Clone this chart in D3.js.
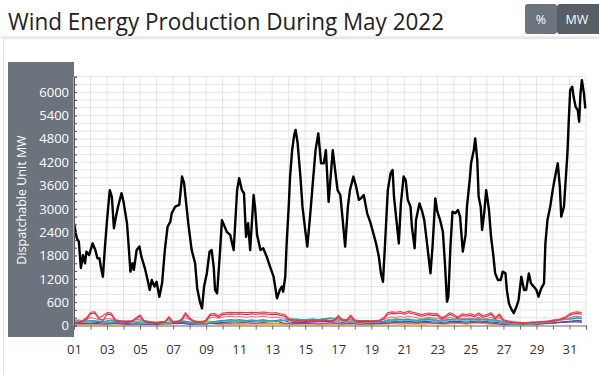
<!DOCTYPE html>
<html><head><meta charset="utf-8">
<script src="https://cdn.jsdelivr.net/npm/d3@7"></script>
<style>
html,body{margin:0;padding:0;background:#fff;}
svg{display:block;font-family:"Open Sans","Noto Sans",sans-serif;}
</style></head>
<body>
<svg id="chart" width="599" height="375"></svg>
<script>
// ---------- DATA ----------
const titleText = "Wind Energy Production During May 2022";
const yTitle = "Dispatchable Unit MW";
const yTickValues = [0, 600, 1200, 1800, 2400, 3000, 3600, 4200, 4800, 5400, 6000];
const xTickLabels = ["01","03","05","07","09","11","13","15","17","19","21","23","25","27","29","31"];

// total production: hour offset from 1 May 00:00, MW
const totalHours = [0,4,7,10,13,16,18,22,27,31,34,37,39,42,45,48,52,55,58,61,64,69,72,77,79,82,85,87,91,95,98,103,107,110,113,117,120,124,128,132,136,140,142,147,153,157,160,163,166,171,176,179,183,186,189,193,197,200,203,205,208,212,215,218,222,227,232,234,237,240,244,247,250,253,256,261,263,266,271,275,280,285,290,295,299,302,304,307,309,312,314,317,320,322,325,329,332,336,339,343,347,351,355,359,363,366,370,373,376,380,383,387,390,394,398,401,406,410,414,417,421,426,431,435,439,443,446,449,452,456,460,463,465,469,472,475,479,482,485,489,491,495,497,502,506,509,513,518,521,525,528,532,536,539,542,544,547,550,554,558,561,565,569,571,575,577,581,583,586,588,591,593,596,599,603,606,609,612,616,620,623,627,629,632,635,639,643,646,650,654,657,661,664,668,672,675,679,683,685,688,692,696,700,703,706,708,712,714,717,719,721,724,726,729,732,734,736,738,741,743];
const totalMW = [2630,2250,2155,1480,1810,1600,1900,1810,2110,1940,1730,1730,1510,1255,2030,2710,3480,3310,2500,2800,3055,3400,3180,2630,2155,1385,1600,1430,1940,2030,1770,1470,1170,910,1170,1000,1125,740,1085,1940,2540,2670,2885,3055,3100,3830,3660,3140,2630,1940,1600,960,610,440,1000,1340,1900,1940,1510,910,830,1855,2710,2580,2410,2330,1940,2540,3480,3785,3480,3400,2280,2630,1940,3355,3055,2330,1940,1985,1770,1510,1255,700,910,1000,870,1255,2110,3055,3830,4510,4900,5030,4685,3830,3055,2455,2030,2800,3660,4510,4940,4170,4170,4510,3180,3830,4510,3910,3480,3355,2800,2030,3055,3480,3830,3570,3230,3270,3355,2885,2630,2370,2110,1770,1340,1125,2110,3480,3910,4000,3310,2630,2110,3140,3830,3740,3230,3055,2540,1985,2710,3140,2925,2710,2110,1340,2030,3270,2925,2710,2410,1600,610,740,2030,2925,2885,2970,2800,1900,2330,3055,3740,4170,4510,4810,4255,3310,3055,2455,2885,3480,2970,2280,1855,1340,1170,1170,1385,1340,910,570,440,315,485,655,1255,910,910,1340,1085,1000,910,740,955,1085,2110,2710,3055,3525,3910,4170,3570,2800,3055,3610,4425,5280,6055,6140,5880,5620,5540,5240,5970,6310,5970,5580];

// individual units, 6-hourly from 1 May 00:00 (MW)
const unitRed = [60,80,120,200, 340,355,200,250, 330,320,150,120, 110,100,120,200, 270,120,100,90, 80,90,100,230, 90,100,160,330, 200,120,100,80, 150,300,310,250, 320,330,340,330, 340,335,330,340, 330,340,345,330, 320,330,300,280, 180,150,130,140, 120,130,140,130, 140,150,130,140, 260,150,140,270, 140,130,120,130, 120,130,140,200, 330,350,340,360, 330,370,340,320, 280,300,320,300, 300,200,250,330, 280,220,300,280, 300,260,320,250, 280,330,200,300, 150,120,100,90, 80,70,80,90, 90,100,110,120, 140,150,180,220, 300,340,350,330];
const unitCrimson = [50,70,100,150, 300,320,180,130, 290,280,130,100, 90,80,100,170, 230,100,80,70, 60,80,90,190, 80,90,130,280, 170,100,80,70, 120,260,270,210, 280,290,300,290, 300,290,280,300, 290,300,300,290, 280,290,260,240, 150,120,110,120, 100,110,120,110, 120,130,110,120, 220,130,120,230, 120,110,100,110, 100,110,120,170, 290,310,300,320, 290,330,300,280, 240,260,280,260, 260,170,210,290, 240,190,260,240, 260,220,280,210, 240,290,170,260, 130,100,80,70, 60,60,70,80, 80,90,100,100, 120,130,160,190, 260,300,310,290];
const unitPink = [120,150,130,160, 200,180,150,140, 180,170,140,130, 120,110,130,150, 160,120,100,90, 80,100,110,140, 110,120,140,200, 150,120,100,90, 130,200,220,180, 220,230,240,220, 230,220,210,230, 220,230,240,220, 210,220,200,190, 130,110,100,120, 110,120,130,120, 130,140,120,130, 170,130,130,170, 130,120,110,120, 110,120,130,150, 200,220,210,230, 210,240,220,200, 180,200,210,190, 190,140,170,210, 180,150,190,180, 190,170,210,160, 180,210,140,190, 110,90,70,60, 50,50,60,70, 70,80,90,90, 100,120,140,160, 200,230,240,220];
const unitTeal = [150,130,120,140, 130,120,110,100, 120,140,110,100, 110,120,100,90, 80,90,70,60, 50,60,80,90, 100,110,120,100, 90,70,60,50, 60,80,100,120, 130,140,150,140, 150,140,130,140, 130,140,150,130, 120,110,130,140, 160,170,150,140, 150,160,170,150, 160,170,180,160, 170,160,150,160, 140,130,120,110, 100,90,100,110, 130,140,150,160, 150,160,140,130, 140,150,160,140, 130,120,140,150, 160,170,150,140, 160,150,170,160, 150,140,130,120, 90,70,50,40, 40,30,40,50, 60,70,90,100, 120,140,150,170, 180,190,200,190];
const unitCyan = [110,100,90,100, 90,100,110,90, 80,90,100,90, 80,70,60,70, 60,50,60,70, 60,70,80,70, 80,90,100,110, 80,60,50,40, 50,70,90,100, 110,120,110,100, 110,120,130,120, 110,100,120,110, 100,110,120,130, 150,160,170,150, 140,150,160,140, 170,180,200,190, 160,150,140,150, 130,120,110,100, 90,80,90,100, 110,120,130,120, 130,140,120,110, 120,130,140,130, 120,110,130,140, 130,140,120,110, 130,140,150,140, 130,120,110,100, 70,50,40,30, 30,30,40,40, 50,60,80,90, 110,120,140,150, 160,170,180,170];
const unitBlue = [80,70,60,70, 60,70,80,70, 60,70,80,70, 60,50,40,50, 40,40,50,50, 40,50,60,50, 60,70,80,70, 60,50,40,40, 40,50,60,70, 80,90,100,110, 110,120,110,100, 110,120,130,120, 110,130,150,120, 90,80,70,80, 80,90,100,90, 100,110,100,90, 90,80,90,100, 90,80,70,70, 60,60,70,80, 90,100,110,100, 100,110,100,90, 100,110,100,90, 90,80,90,100, 100,110,100,90, 100,110,120,110, 100,90,80,70, 60,50,50,50, 50,50,50,50, 50,50,60,60, 70,80,90,100, 110,120,130,120];
const unitGreen = [60,80,100,90, 110,120,100,90, 100,120,110,100, 90,80,100,110, 120,130,110,90, 70,60,50,60, 80,100,120,110, 90,70,80,100, 120,110,100,110, 120,130,140,130, 120,110,130,140, 130,120,110,120, 110,100,120,130, 140,150,130,120, 130,140,150,140, 150,140,130,140, 130,120,110,120, 110,100,90,80, 80,90,100,110, 150,160,170,160, 160,170,150,140, 150,170,180,160, 140,130,150,160, 170,180,160,150, 170,160,180,170, 160,150,140,130, 80,60,40,30, 30,30,30,40, 50,70,90,110, 130,140,160,170, 170,180,190,180];
const unitPurple = [40,50,60,50, 50,60,50,40, 40,50,60,50, 40,30,40,50, 40,30,30,40, 30,40,50,40, 50,60,50,40, 30,30,40,40, 40,50,60,50, 60,70,60,70, 70,80,70,60, 60,70,80,90, 100,120,80,60, 50,40,50,60, 50,60,50,40, 50,60,70,60, 50,40,50,60, 50,40,40,50, 40,50,60,50, 60,70,80,70, 70,60,70,80, 70,80,70,60, 60,50,60,70, 70,80,70,60, 70,80,90,80, 70,60,50,40, 30,30,30,30, 30,30,30,30, 30,40,50,50, 60,70,80,80, 90,100,90,80];
const unitYellow = [20,20,30,20, 20,30,20,20, 20,20,30,30, 20,20,20,20, 30,40,30,20, 20,20,30,40, 40,50,60,60, 80,100,110,120, 100,80,60,40, 30,30,30,30, 30,30,20,20, 20,20,30,30, 30,40,30,30, 30,30,30,20, 20,20,20,20, 20,30,30,20, 20,20,20,30, 30,30,20,20, 20,20,30,30, 30,40,40,30, 30,40,30,30, 30,30,40,40, 40,30,30,40, 40,50,40,30, 40,50,60,50, 40,30,30,20, 20,20,20,20, 20,20,20,20, 20,30,40,50, 60,70,80,90, 100,110,120,110];
const unitOrange = [30,40,30,30, 40,30,30,40, 30,40,50,40, 30,30,40,30, 30,40,30,30, 30,30,40,50, 50,40,50,60, 70,90,100,80, 60,50,40,30, 40,50,40,40, 50,40,40,50, 40,50,60,50, 50,60,50,40, 40,50,40,40, 40,40,50,40, 40,50,40,50, 40,40,50,40, 40,30,30,40, 30,40,40,50, 60,50,60,70, 60,70,60,50, 60,70,60,50, 50,60,50,60, 60,70,60,50, 70,80,70,60, 60,50,40,40, 30,20,20,20, 20,20,20,20, 30,40,50,60, 60,70,80,80, 90,100,110,100];

const unitSeries = [
  {name:"Yellow", values:unitYellow, color:"#f4c20d"},
  {name:"Orange", values:unitOrange, color:"#f68b1f"},
  {name:"Purple", values:unitPurple, color:"#8e3fb0"},
  {name:"Blue", values:unitBlue, color:"#3f51b5"},
  {name:"Green", values:unitGreen, color:"#7cb342"},
  {name:"Cyan", values:unitCyan, color:"#37b9e6"},
  {name:"Teal", values:unitTeal, color:"#26a69a"},
  {name:"Pink", values:unitPink, color:"#ec6f9a"},
  {name:"Crimson", values:unitCrimson, color:"#d6264a"},
  {name:"Red", values:unitRed, color:"#ef3b3b"}
];

// ---------- CHART ----------
const svg = d3.select("#chart");
const HOUR = 3600000;
const t0 = Date.UTC(2022, 4, 1);
const t1 = Date.UTC(2022, 5, 1);

const plot = {left:74, right:586, top:76.6, bottom:325.5};
const x = d3.scaleUtc().domain([t0, t1]).range([plot.left, plot.right]);
const y = d3.scaleLinear().domain([0, 6400]).range([plot.bottom, plot.top]);

// frame / page decorations
svg.append("rect").attr("x",3.5).attr("y",38.5).attr("width",620).attr("height",400)
  .attr("fill","#fff").attr("stroke","#e2e2e2");
svg.append("line").attr("x1",0).attr("x2",599).attr("y1",37).attr("y2",37)
  .attr("stroke","#ececec").attr("stroke-width",2);

// title
svg.append("text").attr("x",8).attr("y",30)
  .attr("font-size",24).attr("fill","#222")
  .attr("textLength",436).attr("lengthAdjust","spacingAndGlyphs")
  .text(titleText);

// buttons
const btns = [{label:"%", x:525, w:32, fill:"#6c757d"}, {label:"MW", x:557, w:45, fill:"#565e66"}];
btns.forEach(b => {
  svg.append("rect").attr("x",b.x).attr("y",4).attr("width",b.w).attr("height",30)
    .attr("rx",3).attr("fill",b.fill);
  svg.append("text").attr("x",b.x + (b.label==="%"?16:20)).attr("y",23.5)
    .attr("text-anchor","middle").attr("font-size",12.5).attr("fill","#fff").text(b.label);
});

// y-axis panel
svg.append("rect").attr("x",8).attr("y",62).attr("width",66).attr("height",275).attr("fill","#6b737c");

// gridlines
const grid = svg.append("g");
grid.selectAll("line.h").data(d3.range(200, 6401, 200)).join("line")
  .attr("x1",plot.left).attr("x2",plot.right)
  .attr("y1",d=>y(d)).attr("y2",d=>y(d))
  .attr("stroke","#e4e4e4").attr("stroke-width",1);
grid.selectAll("line.v").data(d3.utcDay.range(t0, t1 + 1)).join("line")
  .attr("x1",d=>x(d)).attr("x2",d=>x(d))
  .attr("y1",plot.top).attr("y2",plot.bottom)
  .attr("stroke","#e4e4e4").attr("stroke-width",1);

// clip
svg.append("clipPath").attr("id","clip").append("rect")
  .attr("x",plot.left).attr("y",plot.top-4).attr("width",plot.right-plot.left+1).attr("height",plot.bottom-plot.top+6);

const lines = svg.append("g").attr("clip-path","url(#clip)");

// unit lines
const unitLine = d3.line().x((d,i)=>x(t0 + i*6*HOUR)).y(d=>y(d));
unitSeries.forEach(s => {
  lines.append("path").datum(s.values).attr("d",unitLine)
    .attr("fill","none").attr("stroke",s.color).attr("stroke-width",1.1).attr("stroke-linejoin","round");
});

// total line
const totalData = totalHours.map((h,i)=>({t:t0 + h*HOUR, v:totalMW[i]}));
lines.append("path").datum(totalData)
  .attr("d", d3.line().x(d=>x(d.t)).y(d=>y(d.v)))
  .attr("fill","none").attr("stroke","#000").attr("stroke-width",2.4).attr("stroke-linejoin","round");

// y axis labels
const yAxis = svg.append("g").attr("transform",`translate(${plot.left},0)`)
  .call(d3.axisLeft(y).tickValues(yTickValues).tickSize(0).tickPadding(5).tickFormat(d3.format("d")));
yAxis.select(".domain").remove();
yAxis.selectAll("text").attr("fill","#fff").attr("font-size",13)
  .attr("font-family","'Open Sans','Noto Sans',sans-serif");

// y minor ticks
const yMinor = svg.append("g").attr("transform",`translate(${plot.left},0)`)
  .call(d3.axisRight(y).tickValues(d3.range(0, 6401, 200)).tickSize(3).tickFormat(""));
yMinor.select(".domain").attr("stroke","#555");
yMinor.selectAll("line").attr("stroke","#555");

// y title
svg.append("text").attr("transform","translate(26,200) rotate(-90)")
  .attr("text-anchor","middle").attr("font-size",12.5).attr("fill","#fff").text(yTitle);

// x axis
const labelSet = new Set(xTickLabels);
const xAxis = svg.append("g").attr("transform",`translate(0,${plot.bottom})`)
  .call(d3.axisBottom(x).ticks(d3.utcDay.every(1)).tickSize(4).tickPadding(15)
    .tickFormat(d => { const s = d3.utcFormat("%d")(d); return (d < t1 && labelSet.has(s) && (d.getUTCDate()%2===1) && d.getUTCMonth()===4) ? s : ""; }));
xAxis.select(".domain").attr("stroke","#666").attr("stroke-width",1.2);
xAxis.selectAll("line").attr("stroke","#666");
xAxis.selectAll("text").attr("fill","#333").attr("font-size",13)
  .attr("font-family","'Open Sans','Noto Sans',sans-serif");
</script>
</body></html>
